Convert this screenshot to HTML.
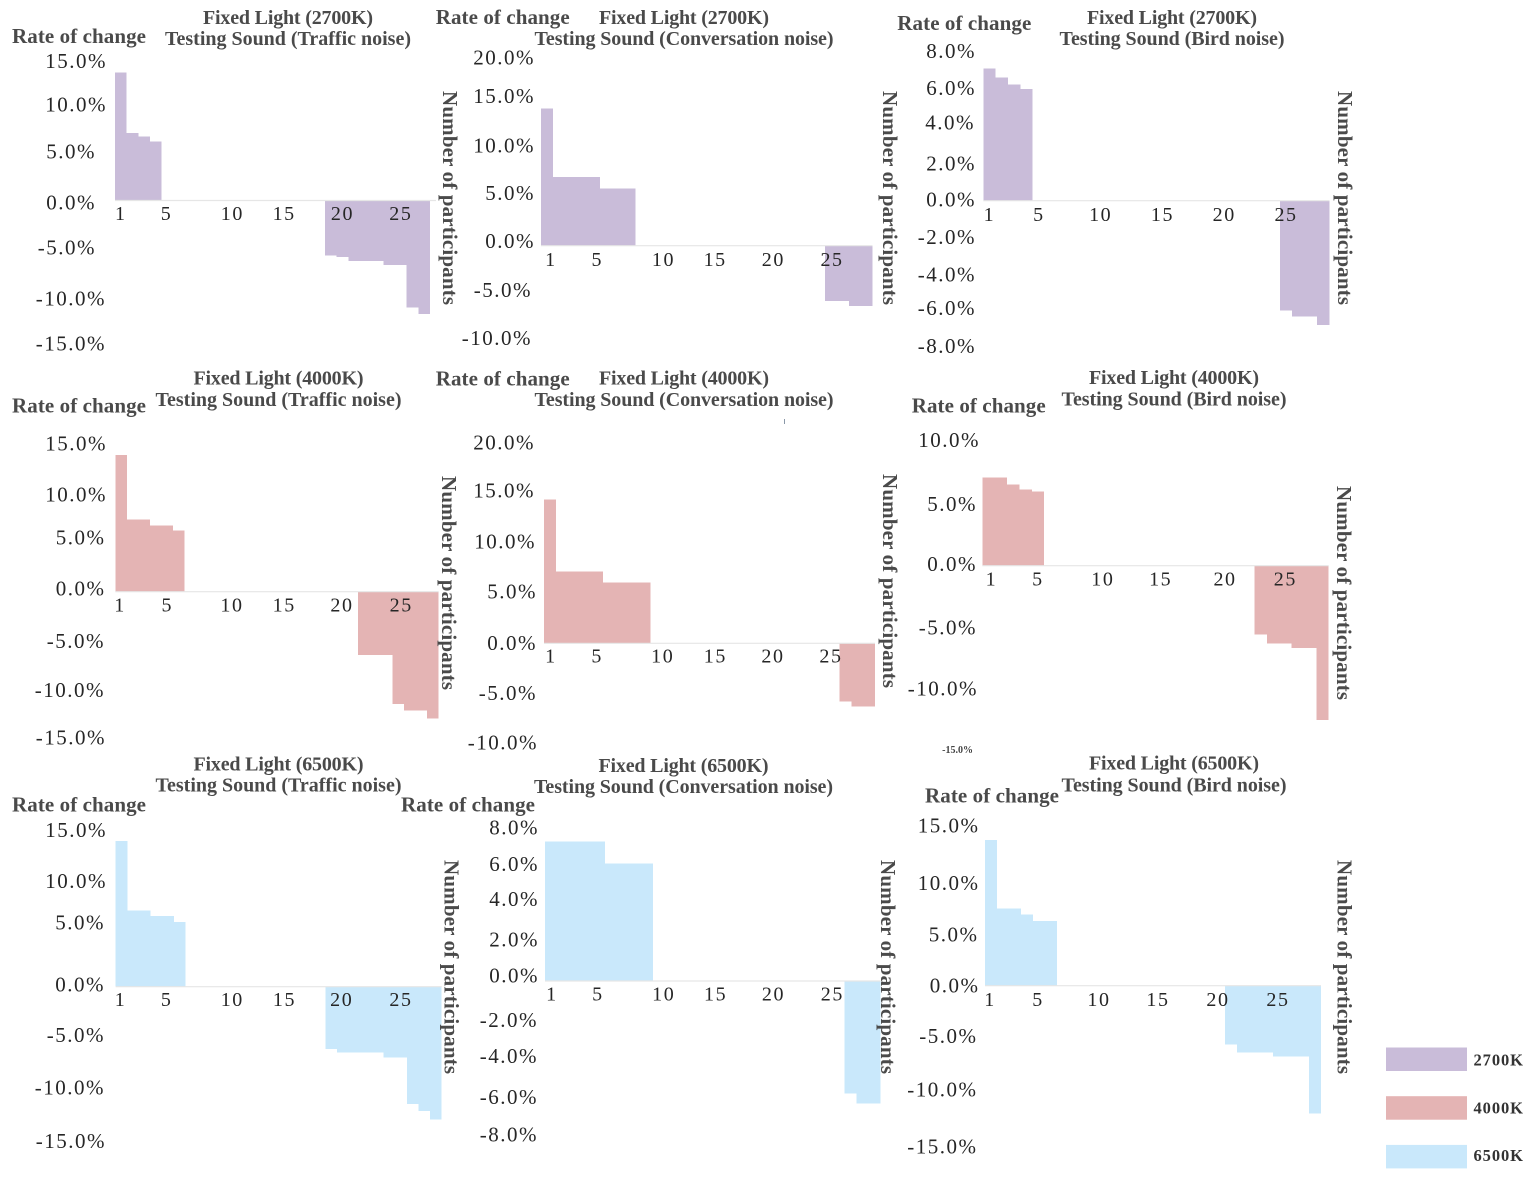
<!DOCTYPE html>
<html lang="en">
<head>
<meta charset="utf-8">
<title>Rate of change by participant</title>
<style>
  html, body { margin: 0; padding: 0; background: #ffffff; }
  svg { display: block; }
  text { font-family: "Liberation Serif", "Times New Roman", serif; }
  .tick { font-size: 21px; letter-spacing: 1.5px; fill: #262626; dominant-baseline: central; }
  .tick-tiny { font-size: 10px; letter-spacing: 0; font-weight: bold; fill: #444; dominant-baseline: central; }
  .xtick { font-size: 20px; letter-spacing: 1.6px; fill: #262626; text-anchor: middle; dominant-baseline: central; }
  .title { font-size: 20px; font-weight: bold; fill: #4a4a4a; text-anchor: middle; dominant-baseline: central; }
  .rate { font-size: 21px; font-weight: bold; fill: #4a4a4a; dominant-baseline: central; }
  .num { font-size: 21px; font-weight: bold; fill: #4a4a4a; text-anchor: middle; dominant-baseline: central; }
  .legend-label { font-size: 16.5px; font-weight: bold; fill: #333; dominant-baseline: central; }
</style>
</head>
<body>
<svg id="chart" xmlns="http://www.w3.org/2000/svg" width="1535" height="1183" viewBox="0 0 1535 1183"></svg>
<script>
// ---- Data: rate of change (%) per participant ----
const v2700Traffic = [13.6,7.2,6.8,6.3,0,0,0,0,0,0,0,0,0,0,0,0,0,0,-5.85,-6.0,-6.45,-6.45,-6.45,-6.85,-6.85,-11.4,-12.1];
const v2700Conversation = [14.6,7.3,7.3,7.3,7.3,6.1,6.1,6.1,0,0,0,0,0,0,0,0,0,0,0,0,0,0,0,0,-5.9,-5.9,-6.4,-6.4];
const v2700Bird = [7.16,6.67,6.29,6.07,0,0,0,0,0,0,0,0,0,0,0,0,0,0,0,0,0,0,0,0,-5.96,-6.29,-6.29,-6.74];
const v4000Traffic = [13.9,7.32,7.32,6.75,6.75,6.24,0,0,0,0,0,0,0,0,0,0,0,0,0,0,0,-6.44,-6.44,-6.44,-11.43,-12.1,-12.1,-12.9];
const v4000Conversation = [14.4,7.2,7.2,7.2,7.2,6.1,6.1,6.1,6.1,0,0,0,0,0,0,0,0,0,0,0,0,0,0,0,0,-5.83,-6.33,-6.33];
const v4000Bird = [7.1,7.1,6.56,6.15,5.97,0,0,0,0,0,0,0,0,0,0,0,0,0,0,0,0,0,-5.56,-6.26,-6.26,-6.64,-6.64,-12.44];
const v6500Traffic = [14.06,7.37,7.37,6.82,6.82,6.24,0,0,0,0,0,0,0,0,0,0,0,0,-6.02,-6.37,-6.37,-6.37,-6.37,-6.82,-6.82,-11.33,-12.0,-12.8];
const v6500Conversation = [7.27,7.27,7.27,7.27,7.27,6.13,6.13,6.13,6.13,0,0,0,0,0,0,0,0,0,0,0,0,0,0,0,0,-5.85,-6.37,-6.37];
const v6500Bird = [13.63,7.2,7.2,6.64,6.05,6.05,0,0,0,0,0,0,0,0,0,0,0,0,0,0,-5.52,-6.27,-6.27,-6.27,-6.64,-6.64,-6.64,-11.95];

// ---- Tick labels ----
const xTicks = [1,5,10,15,20,25];
const yTicks15 = [15,10,5,0,-5,-10,-15];
const yTicks20 = [20,15,10,5,0,-5,-10];
const yTicks8 = [8,6,4,2,0,-2,-4,-6,-8];
const yTicks10 = [10,5,0,-5,-10,-15];

// ---- Legend ----
const lightLevels = ['2700K','4000K','6500K'];
const noiseNames = ['Traffic noise','Conversation noise','Bird noise'];

// ---- Styling ----
const fills = { '2700K':'#c9bcd9', '4000K':'#e4b4b4', '6500K':'#c9e8fb' };
const soundTitleWidth = { 'Traffic noise':246, 'Conversation noise':299, 'Bird noise':225 };

// ---- Layout (scale plus the hand-placed label offsets of the source figure) ----
const layoutA = {x0:115,xEnd:430,axisEnd:436,base:200.5,scale:9.4,yRight:107,
  yDx:[0,0,-11,-11,-11,-1,-1],yDy:[1.5,-2,-2,2,0,4,2],xDx:[0,-1,6.5,0,0,0],xLabelY:214,
  cx:288,t1:18,t2:39,rateX:12,rateY:36,numX:450,numY:198};
const layoutB = {x0:541,xEnd:872.5,axisEnd:872.5,base:245.7,scale:9.4,yRight:535,
  yDx:[0,0,0,0,0,-3,-3],yDy:[0,-8.7,-6.4,-5.7,-4.7,-2.7,-1.7],xDx:[4,3,10,2.5,1.5,1],xLabelY:260,
  cx:684,t1:18,t2:39,rateX:435.7,rateY:17,numX:890,numY:198};
const layoutC = {x0:983.3,xEnd:1329.3,axisEnd:1329.3,base:200.7,scale:18.44,yRight:976,
  yDx:[0,0,-1,0,0,0,0,0,0],yDy:[-2,-2.3,-4.2,-0.3,-1.2,-0.8,0,-3.5,-2],xDx:[0,0,0,0,0,0],xLabelY:215,
  cx:1172,t1:18,t2:39,rateX:897.3,rateY:23,numX:1345,numY:198};
const layoutD = {x0:115.3,xEnd:438.7,axisEnd:438.7,base:591.7,scale:9.83,yRight:107,
  yDx:[0,0,-1.5,-1.5,-2,-2,-1],yDy:[-1,1.3,-5.3,-3.4,0,0,-1.5],xDx:[-1,0,7,1.5,1.5,3],xLabelY:605.7,
  cx:278.5,t1:378.3,t2:400,rateX:12,rateY:405.3,numX:449,numY:583};
const layoutE = {x0:544,xEnd:875,axisEnd:875,base:643.3,scale:10,yRight:535,
  yDx:[0,0,1,2,2,2,3],yDy:[-0.6,-2.6,-1.6,-1.6,-0.3,-0.3,-0.6],xDx:[1,0,6.4,0,-1.5,-2.6],xLabelY:656.7,
  cx:684,t1:378.3,t2:400,rateX:435.7,rateY:378.7,numX:890,numY:581};
const layoutF = {x0:982.3,xEnd:1328.7,axisEnd:1328.7,base:565.7,scale:12.4,yRight:978,tinyLast:true,
  yDx:[2,-1,-1,-1,0,-5],yDy:[-1.7,0.3,-1.7,0,-1.4,-1],xDx:[3,0,3,-1,1.5,0],xLabelY:579.3,
  cx:1174,t1:378,t2:399.7,rateX:911.7,rateY:405.3,numX:1344,numY:593};
const layoutG = {x0:115.7,xEnd:441.7,axisEnd:441.7,base:986.7,scale:10.36,yRight:107,
  yDx:[0,0,-2,-2,-2,-2,-1],yDy:[-1.3,-2.2,-12.2,-2.4,-3.5,-3,-1.3],xDx:[-1,-1.4,6,0,-1,0],xLabelY:1000,
  cx:278.5,t1:764.3,t2:785.7,rateX:12,rateY:804.3,numX:451.7,numY:967};
const layoutH = {x0:545,xEnd:880.3,axisEnd:880.3,base:981,scale:19.2,yRight:539,
  yDx:[0,0,0,0,0,-1,-1,-1,-1],yDy:[0,-2,-5.4,-3.1,-5.5,0.8,-1.6,0.6,-0.1],xDx:[1,-1,5,-3,-5,-6],xLabelY:994.3,
  cx:683.5,t1:766,t2:787,rateX:401,rateY:804.3,numX:888,numY:967};
const layoutI = {x0:985,xEnd:1321,axisEnd:1321,base:985.7,scale:10.69,yRight:979.5,
  yDx:[0,0,-1,0,-2,-2,-2],yDy:[0.1,4,2.3,-0.2,-3,-3.1,0.2],xDx:[-1,-1,0,-1,-1,-1],xLabelY:1000,
  cx:1174,t1:763.7,t2:785.3,rateX:925,rateY:795.3,numX:1344.7,numY:967};

const panels = [
  {light:lightLevels[0],noise:noiseNames[0],values:v2700Traffic,yTicks:yTicks15,layout:layoutA},
  {light:lightLevels[0],noise:noiseNames[1],values:v2700Conversation,yTicks:yTicks20,layout:layoutB},
  {light:lightLevels[0],noise:noiseNames[2],values:v2700Bird,yTicks:yTicks8,layout:layoutC},
  {light:lightLevels[1],noise:noiseNames[0],values:v4000Traffic,yTicks:yTicks15,layout:layoutD},
  {light:lightLevels[1],noise:noiseNames[1],values:v4000Conversation,yTicks:yTicks20,layout:layoutE},
  {light:lightLevels[1],noise:noiseNames[2],values:v4000Bird,yTicks:yTicks10,layout:layoutF},
  {light:lightLevels[2],noise:noiseNames[0],values:v6500Traffic,yTicks:yTicks15,layout:layoutG},
  {light:lightLevels[2],noise:noiseNames[1],values:v6500Conversation,yTicks:yTicks8,layout:layoutH},
  {light:lightLevels[2],noise:noiseNames[2],values:v6500Bird,yTicks:yTicks15,layout:layoutI}
];

const NS = 'http://www.w3.org/2000/svg';
const svg = document.getElementById('chart');

function make(tag, attrs, parent, txt) {
  const n = document.createElementNS(NS, tag);
  for (const k in attrs) n.setAttribute(k, attrs[k]);
  if (txt !== undefined) n.textContent = txt;
  parent.appendChild(n);
  return n;
}
const slug = s => s.toLowerCase().replace(/\s+/g, '-');

panels.forEach(function (p) {
  const L = p.layout;
  const id = slug(p.light) + '-' + slug(p.noise);
  const band = (L.xEnd - L.x0) / p.values.length;
  const xPos = i => L.x0 + band * i;           // i = zero-based participant index
  const yPos = v => L.base - v * L.scale;      // v = percent

  const g = make('g', {}, svg);
  
  

  // bars
  p.values.forEach(function (v, i) {
    if (v === 0) return;
    const r = make('rect', {
      x: xPos(i), y: Math.min(yPos(v), yPos(0)),
      width: band, height: Math.abs(yPos(v) - yPos(0)),
      fill: fills[p.light], 'shape-rendering': 'crispEdges'
    }, g);
    
    
  });

  // zero axis
  const axis = make('line', {
    x1: L.x0, x2: L.axisEnd, y1: yPos(0), y2: yPos(0),
    stroke: '#e6e6e6', 'stroke-width': 1.2
  }, g);
  
  

  // y tick labels
  p.yTicks.forEach(function (v, i) {
    const tiny = L.tinyLast && i === p.yTicks.length - 1;
    const t = make('text', {
      x: L.yRight + L.yDx[i], y: yPos(v) + L.yDy[i],
      'text-anchor': 'end', class: tiny ? 'tick-tiny' : 'tick'
    }, g, v.toFixed(1) + '%');
    
    
  });

  // x tick labels
  xTicks.forEach(function (n, i) {
    const t = make('text', {
      x: xPos(n - 0.5) + L.xDx[i], y: L.xLabelY, class: 'xtick'
    }, g, String(n));
    
    
  });

  // titles
  const t1 = make('text', {
    x: L.cx, y: L.t1, class: 'title', textLength: 170, lengthAdjust: 'spacing'
  }, g, 'Fixed Light (' + p.light + ')');
  
  

  const t2 = make('text', {
    x: L.cx, y: L.t2, class: 'title', textLength: soundTitleWidth[p.noise], lengthAdjust: 'spacing'
  }, g, 'Testing Sound (' + p.noise + ')');
  
  

  // axis titles
  const rate = make('text', {
    x: L.rateX, y: L.rateY, class: 'rate', textLength: 134, lengthAdjust: 'spacing'
  }, g, 'Rate of change');
  
  

  const num = make('text', {
    transform: 'translate(' + L.numX + ',' + L.numY + ') rotate(90)',
    class: 'num', textLength: 214, lengthAdjust: 'spacing'
  }, g, 'Number of participants');
  
  
});

// stray print artefact in the source figure
const speck = make('rect', { x: 784, y: 419, width: 1, height: 5, fill: '#8a98a8' }, svg);



// legend
const legend = make('g', {}, svg);


lightLevels.forEach(function (name, i) {
  const top = 1047.5 + i * 48.7;
  const s = make('rect', { x: 1386, y: top, width: 81, height: 23.5, fill: fills[name] }, legend);
  
  
  const t = make('text', {
    x: 1473.5, y: 1060 + i * 47.85, class: 'legend-label', textLength: 49.5, lengthAdjust: 'spacing'
  }, legend, name);
  
  
});
</script>
</body>
</html>
